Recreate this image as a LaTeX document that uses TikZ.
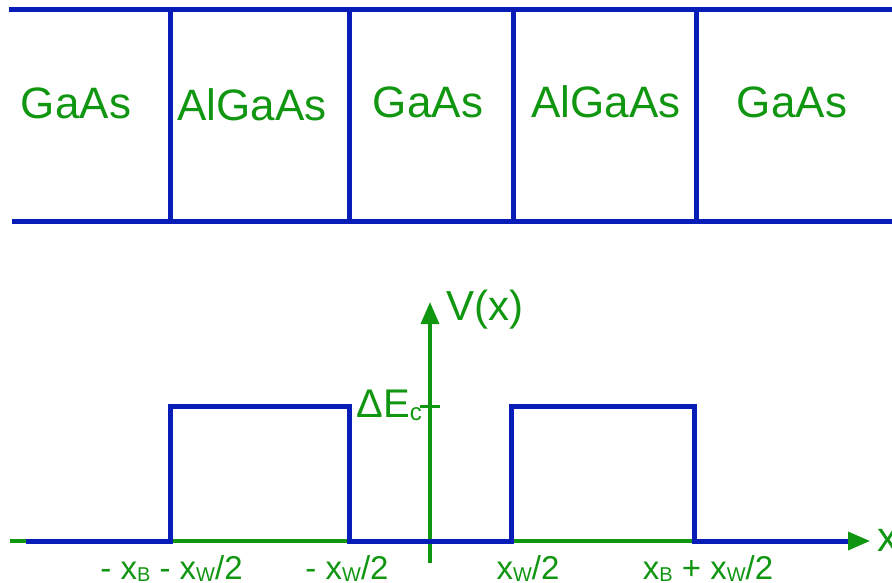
\documentclass[tikz,border=0pt]{standalone}
\usepackage{fontspec}
\setmainfont{Liberation Sans}
\usetikzlibrary{arrows.meta}
\definecolor{lblue}{RGB}{8,28,184}
\definecolor{lgreen}{RGB}{16,150,16}
\newcommand\subsc[1]{\raisebox{-2pt}{\fontsize{20}{20}\selectfont #1}}
\newcommand\subsd[1]{\raisebox{-3pt}{\fontsize{24}{24}\selectfont #1}}
\tikzset{
  layer/.style={draw=lblue,line width=5pt},
  prof/.style={draw=lblue,line width=5pt,line join=miter},
  axis/.style={draw=lgreen,line width=3.5pt,-{Triangle[length=22pt,width=18pt]}},
  matlabel/.style={text=lgreen,font=\fontsize{44}{50}\selectfont,anchor=base,inner sep=0pt},
  poslabel/.style={text=lgreen,font=\fontsize{33}{38}\selectfont,anchor=base,inner sep=0pt},
  biglabel/.style={text=lgreen,font=\fontsize{42}{48}\selectfont,inner sep=0pt},
}
\begin{document}
\begin{tikzpicture}[x=1pt,y=-1pt]
\useasboundingbox (0,0) rectangle (892,583);
% layer stack
\coordinate (tl) at (9,9.5);
\coordinate (tr) at (900,9.5);
\coordinate (bl) at (12,221);
\coordinate (br) at (900,221);
\draw[layer] (tl) -- (tr);
\draw[layer] (bl) -- (br);
\foreach \xx/\nm in {170.5/v1,349/v2,513/v3,696/v4}{
  \coordinate (\nm t) at (\xx,9.5);
  \coordinate (\nm b) at (\xx,221);
  \draw[layer] (\nm t) -- (\nm b);
}
\node[matlabel] (m1) at (76,119) {GaAs};
\node[matlabel] (m2) at (252,121) {AlGaAs};
\node[matlabel] (m3) at (428,118) {GaAs};
\node[matlabel] (m4) at (606,118) {AlGaAs};
\node[matlabel] (m5) at (792,118) {GaAs};
% axes
\coordinate (xa0) at (10,541);
\coordinate (xa1) at (870,541);
\coordinate (ya0) at (430,563);
\coordinate (ya1) at (430,302);
\draw[axis] (xa0) -- (xa1);
\draw[axis] (ya0) -- (ya1);
\coordinate (tk0) at (420,406);
\coordinate (tk1) at (440,406);
\draw[draw=lgreen,line width=3pt] (tk0) -- (tk1);
% potential profile
\coordinate (p0) at (26,541);
\coordinate (p1) at (170,541);
\coordinate (p2) at (170,406);
\coordinate (p3) at (349,406);
\coordinate (p4) at (349,541);
\coordinate (p5) at (511,541);
\coordinate (p6) at (511,406);
\coordinate (p7) at (694,406);
\coordinate (p8) at (694,541);
\coordinate (p9) at (848,541);
\draw[prof] (p0) -- (p1) -- (p2) -- (p3) -- (p4) -- (p5) -- (p6) -- (p7) -- (p8) -- (p9);
% labels
\node[biglabel,anchor=base west] (vx) at (446,320) {V(x)};
\node[biglabel,anchor=base west] (xl) at (877,551) {x};
\node[biglabel,anchor=base east,font=\fontsize{40}{46}\selectfont] (de) at (422,417) {ΔE\subsd{c}};
\node[poslabel] (l1) at (171.5,579) {- x\subsc{B} - x\subsc{W}/2};
\node[poslabel] (l2) at (347,579) {- x\subsc{W}/2};
\node[poslabel] (l3) at (528,579) {x\subsc{W}/2};
\node[poslabel] (l4) at (708,579) {x\subsc{B} + x\subsc{W}/2};
\end{tikzpicture}
\end{document}
